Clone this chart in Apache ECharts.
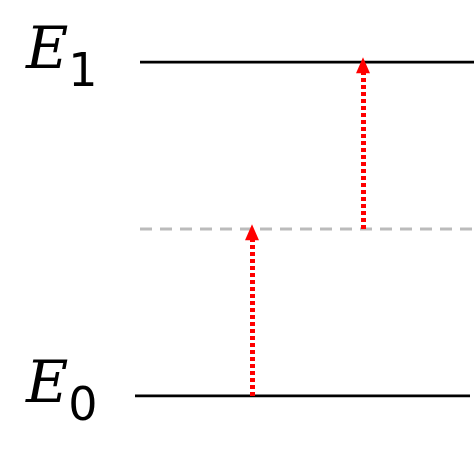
<!DOCTYPE html>
<html><head><meta charset="utf-8">
<script src="https://cdn.jsdelivr.net/npm/echarts@6/dist/echarts.min.js"></script>
<style>html,body{margin:0;padding:0;background:#fff}#c{width:474px;height:453px}</style>
</head><body><div id="c"></div>
<script>
// Energy levels (y values) and horizontal extents (x in px-like units)
var levelNames = ['E0', 'virtual', 'E1'];
var levelY = [0, 0.5, 1];
var levelX = [[135, 470], [140, 474], [140, 474]];
// Transitions: [x, fromY, toY]
var arrows = [[252, 0, 0.49], [363, 0.5, 0.99]];

var chart = echarts.init(document.getElementById('c'));
var series = levelNames.map(function (n, i) {
  return {
    type: 'line', name: n, symbol: 'none', silent: true,
    data: [[levelX[i][0], levelY[i]], [levelX[i][1], levelY[i]]],
    lineStyle: i === 1 ? {color: '#bbbbbb', width: 3, type: [12, 8]} : {color: '#000', width: 3}
  };
});
series.push({
  type: 'line', data: [], silent: true,
  markLine: {
    symbol: ['none', 'triangle'], symbolSize: [14, 16], label: {show: false},
    lineStyle: {color: '#ff0000', width: 5, type: [4, 3]},
    data: arrows.map(function (a) { return [{coord: [a[0], a[1]]}, {coord: [a[0], a[2]]}]; })
  }
});
var rich = {e: {fontFamily: 'DejaVu Serif', fontStyle: 'italic', fontSize: 58, fill: '#000'},
            s: {fontFamily: 'DejaVu Sans', fontSize: 46, fill: '#000', padding: [42, 0, 0, 0]}};
chart.setOption({
  animation: false,
  grid: {left: 0, right: 0, top: 62, bottom: 57},
  xAxis: {type: 'value', min: 0, max: 474, show: false},
  yAxis: {type: 'value', min: 0, max: 1, show: false},
  graphic: [
    {type: 'text', left: 26, top: 24, style: {rich: rich, text: '{e|E}{s|1}'}},
    {type: 'text', left: 26, top: 358, style: {rich: rich, text: '{e|E}{s|0}'}}
  ],
  series: series
});
</script></body></html>
